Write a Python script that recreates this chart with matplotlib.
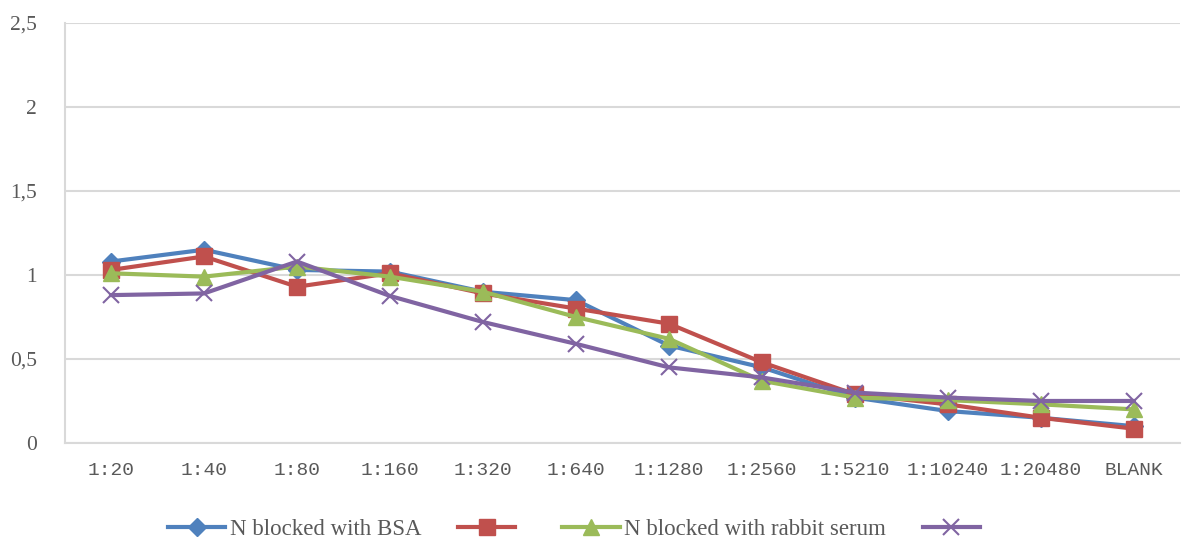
import matplotlib.pyplot as plt
import matplotlib

matplotlib.rc('font', family='Liberation Serif')

dilutions = ['1:20', '1:40', '1:80', '1:160', '1:320', '1:640', '1:1280',
             '1:2560', '1:5210', '1:10240', '1:20480', 'BLANK']

bsa = [1.08, 1.15, 1.03, 1.02, 0.90, 0.85, 0.58, 0.45, 0.27, 0.19, 0.15, 0.10]
red = [1.03, 1.11, 0.93, 1.01, 0.89, 0.80, 0.71, 0.48, 0.29, 0.23, 0.15, 0.085]
rabbit = [1.01, 0.99, 1.05, 0.99, 0.90, 0.75, 0.62, 0.37, 0.27, 0.255, 0.23, 0.20]
purple = [0.88, 0.89, 1.08, 0.875, 0.72, 0.59, 0.45, 0.39, 0.30, 0.27, 0.25, 0.25]

labels = ['N blocked with BSA', ' ', 'N blocked with rabbit serum', ' ']

fig = plt.figure(figsize=(11.82, 5.42), dpi=100)
ax = fig.add_axes([0.0546, 0.1827, 0.944, 0.775])

x = range(len(dilutions))
h1, = ax.plot(x, bsa, color='#4f81bd', lw=3, marker='D', ms=9)
h2, = ax.plot(x, red, color='#c0504d', lw=3, marker='s', ms=11)
h3, = ax.plot(x, rabbit, color='#9bbb59', lw=3, marker='^', ms=11)
h4, = ax.plot(x, purple, color='#8064a2', lw=3, marker='x', ms=11, mew=1.5)

ax.set_xlim(-0.5, len(dilutions) - 0.5)
ax.set_ylim(0, 2.5)
ax.set_yticks([0, 0.5, 1, 1.5, 2, 2.5])
ax.set_yticklabels(['0', '0,5', '1', '1,5', '2', '2,5'], fontsize=15.5, color='#595959')
ax.set_xticks(list(x))
ax.set_xticklabels(dilutions, fontsize=14, color='#595959',
                   family='Liberation Mono')
ax.tick_params(axis='x', length=0, pad=14)
ax.tick_params(axis='y', length=0, pad=20)
ax.grid(axis='y', color='#d9d9d9', lw=1.5)
ax.set_axisbelow(True)
for s in ['top', 'right']:
    ax.spines[s].set_visible(False)
ax.spines['left'].set_color('#d9d9d9')
ax.spines['bottom'].set_color('#d9d9d9')
ax.spines['left'].set_linewidth(1.5)
ax.spines['bottom'].set_linewidth(1.5)

fig.legend([h1, h2, h3, h4], labels, loc='lower center', ncol=4,
           bbox_to_anchor=(0.49, -0.035), frameon=False, fontsize=16.5,
           handlelength=2.5, columnspacing=1.6, handletextpad=0.2,
           labelcolor='#595959')

plt.savefig('out.png')
